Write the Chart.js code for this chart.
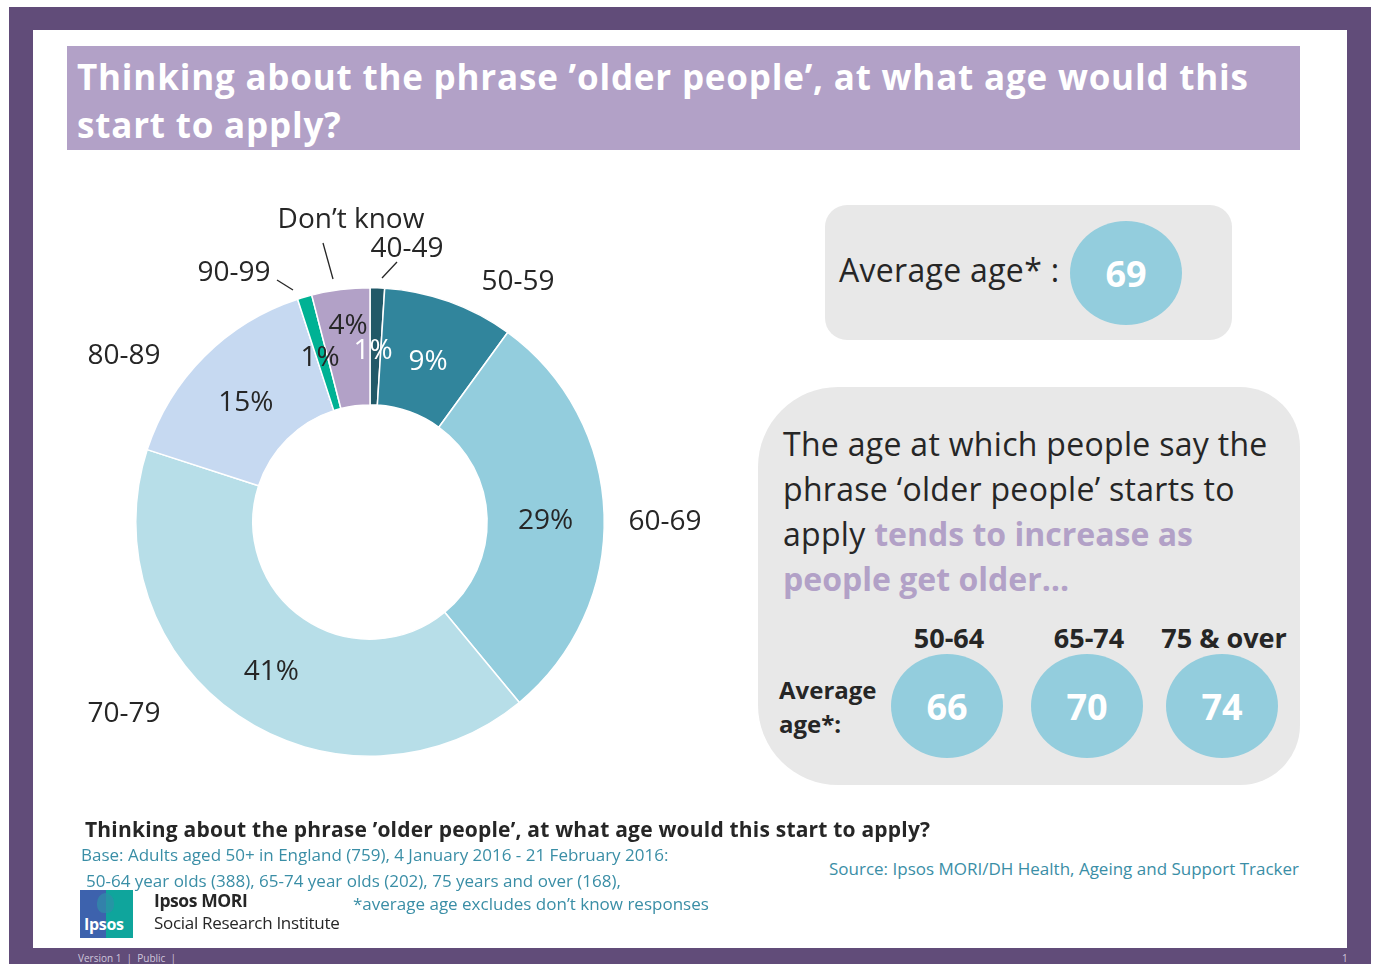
<!DOCTYPE html>
<html>
<head>
<meta charset="utf-8">
<script src="https://cdn.jsdelivr.net/npm/chart.js@4"></script>
<style>
  body { margin: 0; width: 1376px; height: 964px; position: relative; overflow: hidden; background: #fff;
         font-family: "Open Sans", "Noto Sans", sans-serif; color: #262626; }
  .abs { position: absolute; }
  #frame { left: 9px; top: 7px; width: 1362px; height: 957px; background: #614c79; }
  #page { left: 33px; top: 30px; width: 1314px; height: 918px; background: #fff; }
  #titlebar { left: 67px; top: 46px; width: 1233px; height: 104px; background: #b2a1c7; }
  #title { left: 77px; top: 53px; color: #fff; font-weight: 700; font-size: 35px; line-height: 48px;
           white-space: nowrap; letter-spacing: 0.8px; }
  #chartBox { left: 30px; top: 190px; width: 680px; height: 664px; }
  .grey { background: #e8e8e8; }
  #box1 { left: 825px; top: 205px; width: 407px; height: 135px; border-radius: 22px; }
  #box2 { left: 758px; top: 387px; width: 542px; height: 398px; border-radius: 80px 60px 60px 80px; }
  .bubble { position: absolute; background: #93cddd; border-radius: 50%; color: #fff; font-weight: 700;
            font-size: 36px; display: flex; align-items: center; justify-content: center; }
  .big { font-size: 32px; white-space: nowrap; letter-spacing: 0.3px; }
  .purple { color: #b2a1c7; font-weight: 700; letter-spacing: 0; }
  .grp { font-size: 27px; font-weight: 700; white-space: nowrap; text-align: center; width: 160px; }
  .teal { color: #3a8ea6; font-size: 17px; white-space: nowrap; }
  .foot { font-size: 10px; color: #cfc6dc; }
</style>
</head>
<body>
<div id="frame" class="abs"></div>
<div id="page" class="abs"></div>
<div id="titlebar" class="abs"></div>
<div id="title" class="abs">Thinking about the phrase ’older people’, at what age would this<br>start to apply?</div>

<div id="chartBox" class="abs"><canvas id="donut" width="680" height="664"></canvas></div>

<div id="box1" class="abs grey"></div>
<div class="abs big" style="left:839px; top:248px;">Average age* :</div>
<div id="avgAll" class="bubble" style="left:1070px; top:221px; width:112px; height:104px;"></div>

<div id="box2" class="abs grey"></div>
<div class="abs big" style="left:783px; top:421px; line-height:45px;">The age at which people say the<br>phrase ‘older people’ starts to<br>apply <span class="purple">tends to increase as<br>people get older…</span></div>
<div class="abs" style="left:779px; top:673px; font-size:24px; font-weight:700; line-height:34px;">Average<br>age*:</div>
<div id="groups"></div>

<div class="abs" style="left:85px; top:815px; font-size:21px; font-weight:700; white-space:nowrap; letter-spacing:0.2px;">Thinking about the phrase ’older people’, at what age would this start to apply?</div>
<div class="abs teal" style="left:81px; top:843px;">Base: Adults aged 50+ in England (759), 4 January 2016 - 21 February 2016:</div>
<div class="abs teal" style="left:86px; top:869px;">50-64 year olds (388), 65-74 year olds (202), 75 years and over (168),</div>
<div class="abs teal" style="left:353px; top:892px;">*average age excludes don’t know responses</div>
<div class="abs teal" style="left:829px; top:857px;">Source: Ipsos MORI/DH Health, Ageing and Support Tracker</div>

<div class="abs" style="left:80px; top:890px; width:53px; height:48px; background:linear-gradient(90deg,#3d62ad 0 50%,#0fa59c 50% 100%);"></div>
<div class="abs" style="left:97px; top:893px; width:17px; height:20px; border-radius:50% 50% 40% 40%; background:#2f8fa8; opacity:0.7;"></div>
<div class="abs" style="left:84px; top:913px; color:#fff; font-weight:700; font-size:16px; letter-spacing:-0.3px;">Ipsos</div>
<div class="abs" style="left:154px; top:888px; font-size:17.5px; font-weight:700; letter-spacing:-0.4px;">Ipsos MORI</div>
<div class="abs" style="left:154px; top:911px; font-size:17px; letter-spacing:-0.3px;">Social Research Institute</div>

<div class="abs foot" style="left:78px; top:951px;">Version 1 &nbsp;|&nbsp; Public &nbsp;|</div>
<div class="abs foot" style="left:1342px; top:951px;">1</div>

<script>
// share of adults 50+ saying 'older people' starts at each age band
const categories = ['40-49', '50-59', '60-69', '70-79', '80-89', '90-99', 'Don’t know'];
const shares = [1, 9, 29, 41, 15, 1, 4];
const sliceColours = ['#215968', '#31859c', '#93cddd', '#b7dee8', '#c6d9f1', '#00b294', '#b2a1c7'];

// average ages (excluding don't know)
const overallAverage = 69;
const ageGroups = ['50-64', '65-74', '75 & over'];
const groupAverages = [66, 70, 74];

document.getElementById('avgAll').textContent = overallAverage;

const groupsDiv = document.getElementById('groups');
const groupX = [891, 1031, 1166];
ageGroups.forEach((g, i) => {
  const lab = document.createElement('div');
  lab.className = 'abs grp';
  lab.style.left = (groupX[i] + 56 - 80 + 2) + 'px';
  lab.style.top = '619px';
  lab.textContent = g;
  groupsDiv.appendChild(lab);
  const b = document.createElement('div');
  b.className = 'bubble';
  b.style.left = groupX[i] + 'px';
  b.style.top = '654px';
  b.style.width = '112px';
  b.style.height = '104px';
  b.textContent = groupAverages[i];
  groupsDiv.appendChild(b);
});

// label placement around the ring: offset from the centre in px
const pctPos = [
  { dx: 3, dy: -171, colour: '#fff' },
  { dx: 58, dy: -160, colour: '#fff' },
  null, null, null,
  { dx: -50, dy: -164, colour: '#262626' },
  { dx: -22, dy: -196, colour: '#262626' }
];
const namePos = [
  { dx: 37, dy: -273 }, { dx: 148, dy: -240 }, { dx: 295, dy: 0 },
  { dx: -246, dy: 192 }, { dx: -246, dy: -166 }, { dx: -136, dy: -249 }, { dx: -19, dy: -302 }
];
const leaders = [
  [12, -244, 27, -260],   // 40-49
  null, null, null, null,
  [-93, -242, -77, -232], // 90-99
  [-47, -279, -37, -243]  // don't know
];

const ringLabels = {
  id: 'ringLabels',
  afterDatasetsDraw(chart) {
    const ctx = chart.ctx;
    const meta = chart.getDatasetMeta(0);
    ctx.save();
    ctx.textAlign = 'center';
    ctx.textBaseline = 'middle';
    ctx.font = '28px "Open Sans", "Noto Sans", sans-serif';
    meta.data.forEach((arc, i) => {
      const cx = arc.x, cy = arc.y;
      const p = pctPos[i];
      let lx, ly, col = '#262626';
      if (p) {
        lx = cx + p.dx; ly = cy + p.dy; col = p.colour;
      } else {
        const mid = (arc.startAngle + arc.endAngle) / 2;
        const r = (arc.innerRadius + arc.outerRadius) / 2;
        lx = cx + Math.cos(mid) * r; ly = cy + Math.sin(mid) * r + 5;
      }
      ctx.fillStyle = col;
      ctx.fillText(shares[i] + '%', lx, ly);
      ctx.fillStyle = '#262626';
      ctx.fillText(categories[i], cx + namePos[i].dx, cy + namePos[i].dy);
      const l = leaders[i];
      if (l) {
        ctx.strokeStyle = '#262626';
        ctx.lineWidth = 1.3;
        ctx.beginPath();
        ctx.moveTo(cx + l[0], cy + l[1]);
        ctx.lineTo(cx + l[2], cy + l[3]);
        ctx.stroke();
      }
    });
    ctx.restore();
  }
};

new Chart(document.getElementById('donut'), {
  type: 'doughnut',
  data: {
    labels: categories,
    datasets: [{
      data: shares,
      backgroundColor: sliceColours,
      borderColor: '#fff',
      borderWidth: 1.5
    }]
  },
  options: {
    responsive: false,
    animation: false,
    cutout: '50%',
    layout: { padding: { left: 105, right: 105, top: 97, bottom: 97 } },
    plugins: { legend: { display: false }, tooltip: { enabled: false } }
  },
  plugins: [ringLabels]
});
</script>
</body>
</html>
